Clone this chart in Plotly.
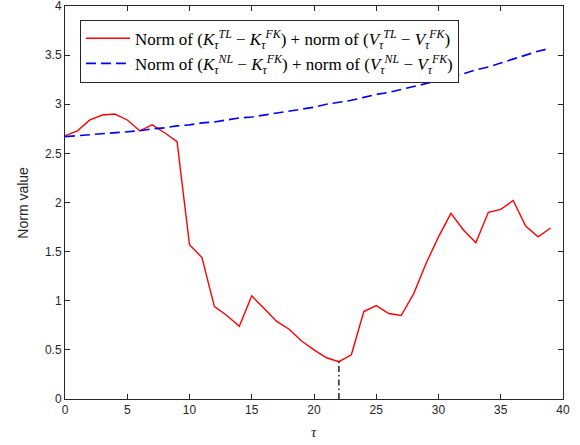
import plotly.graph_objects as go

tau = list(range(40))
norm_tl = [2.68, 2.73, 2.84, 2.89, 2.90, 2.84, 2.73, 2.79, 2.71, 2.62,
           1.57, 1.44, 0.94, 0.85, 0.74, 1.05, 0.92, 0.79, 0.71, 0.59,
           0.50, 0.42, 0.38, 0.45, 0.89, 0.95, 0.87, 0.85, 1.07, 1.38,
           1.65, 1.89, 1.72, 1.59, 1.90, 1.93, 2.02, 1.76, 1.65, 1.74]
norm_nl = [2.67, 2.68, 2.69, 2.70, 2.71, 2.72, 2.73, 2.75, 2.76, 2.78,
           2.79, 2.81, 2.82, 2.84, 2.86, 2.87, 2.89, 2.91, 2.93, 2.95,
           2.97, 3.00, 3.02, 3.04, 3.07, 3.10, 3.12, 3.15, 3.18, 3.21,
           3.24, 3.28, 3.31, 3.35, 3.38, 3.42, 3.46, 3.50, 3.54, 3.57]
min_tau = 22
x_ticks = [0, 5, 10, 15, 20, 25, 30, 35, 40]
y_ticks = [0, 0.5, 1, 1.5, 2, 2.5, 3, 3.5, 4]

label_tl = ("Norm of (<i>K</i><sub><i>τ</i></sub><sup><i>TL</i></sup> − <i>K</i><sub><i>τ</i></sub><sup><i>FK</i></sup>)"
            " + norm of (<i>V</i><sub><i>τ</i></sub><sup><i>TL</i></sup> − <i>V</i><sub><i>τ</i></sub><sup><i>FK</i></sup>)")
label_nl = ("Norm of (<i>K</i><sub><i>τ</i></sub><sup><i>NL</i></sup> − <i>K</i><sub><i>τ</i></sub><sup><i>FK</i></sup>)"
            " + norm of (<i>V</i><sub><i>τ</i></sub><sup><i>NL</i></sup> − <i>V</i><sub><i>τ</i></sub><sup><i>FK</i></sup>)")

fig = go.Figure()
fig.add_trace(go.Scatter(x=tau, y=norm_tl, mode="lines", name=label_tl,
                         line=dict(color="#ff0000", width=1.4)))
fig.add_trace(go.Scatter(x=tau, y=norm_nl, mode="lines", name=label_nl,
                         line=dict(color="#0000ff", width=1.6, dash="10px,5px")))
fig.add_trace(go.Scatter(x=[min_tau, min_tau], y=[0, norm_tl[tau.index(min_tau)]],
                         mode="lines", showlegend=False,
                         line=dict(color="black", width=1.3, dash="6px,3px,1.5px,3px")))

axis_common = dict(showgrid=False, zeroline=False, showline=True, linecolor="#262626",
                   linewidth=1, mirror="ticks", ticks="inside", ticklen=5, automargin=False,
                   ticklabeloverflow="allow",
                   tickcolor="#262626", tickfont=dict(family="Liberation Sans", size=12, color="#262626"))

fig.update_layout(
    width=580, height=445,
    margin=dict(l=65, r=17, t=6, b=46, autoexpand=False),
    paper_bgcolor="white", plot_bgcolor="white",
    xaxis=dict(range=[0, 40], tickvals=x_ticks, ticktext=[str(v) for v in x_ticks], **axis_common),
    yaxis=dict(range=[0, 4], tickvals=y_ticks, ticktext=[("%g" % v) for v in y_ticks], **axis_common),
    legend=dict(x=0.03, y=0.965, xanchor="left", yanchor="top",
                bgcolor="white", bordercolor="#262626", borderwidth=1,
                font=dict(family="Liberation Serif", size=17, color="black"),
                tracegroupgap=0, itemwidth=44),
    annotations=[
        dict(text="Norm value", xref="paper", yref="paper", x=-0.086, y=0.5,
             xanchor="center", yanchor="middle", textangle=-90, showarrow=False,
             font=dict(family="Liberation Sans", size=14, color="#262626")),
        dict(text="<i>τ</i>", xref="paper", yref="paper", x=0.5, y=-0.085,
             xanchor="center", yanchor="middle", showarrow=False,
             font=dict(family="Liberation Serif", size=15, color="#262626")),
    ],
)

fig.write_html("out.html", config={"displayModeBar": False},
               post_script="document.body.style.margin='0';document.body.style.padding='0';")
